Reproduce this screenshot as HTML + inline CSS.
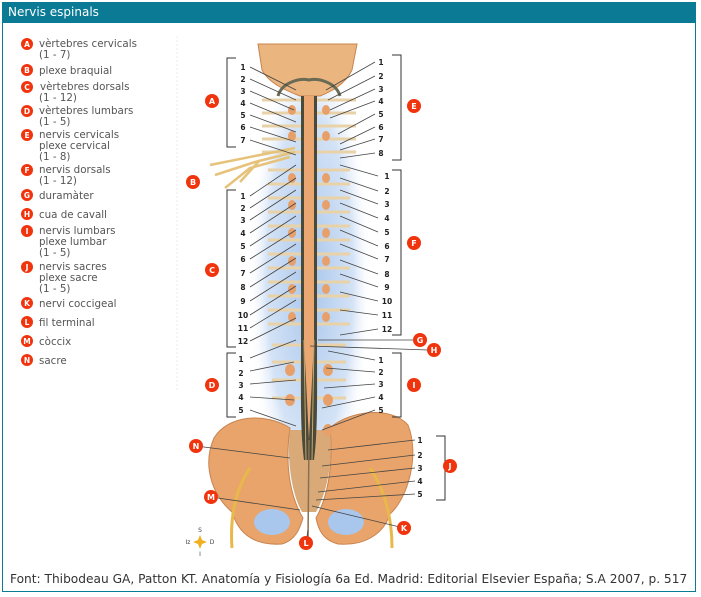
<!DOCTYPE html>
<html><head><meta charset="utf-8">
<style>
html,body{margin:0;padding:0;background:#fff;width:701px;height:597px;overflow:hidden;font-family:"DejaVu Sans","Liberation Sans",sans-serif;}
#box{position:absolute;left:2px;top:2px;width:694px;height:590px;border:1px solid #0b7a95;box-sizing:border-box;}
#hdr{position:absolute;left:2px;top:2px;width:694px;height:21px;background:#0b7a95;color:#fff;font-size:12px;line-height:21px;padding-left:6px;box-sizing:border-box;}
#foot{position:absolute;left:10px;top:572px;font-size:12.2px;color:#333;white-space:nowrap;}
svg{position:absolute;left:0;top:0;}
</style></head><body>
<div id="box"></div>
<div id="hdr">Nervis espinals</div>
<svg width="701" height="597" viewBox="0 0 701 597" font-family="DejaVu Sans, Liberation Sans, sans-serif">
<defs>
<radialGradient id="blue" cx="50%" cy="50%" r="50%"><stop offset="0" stop-color="#a9c6ec"/><stop offset="0.7" stop-color="#d4e3f6"/><stop offset="1" stop-color="#fff" stop-opacity="0"/></radialGradient>
</defs>
<line x1="177" y1="36" x2="177" y2="390" stroke="#eee" stroke-dasharray="2,2"/>
<g font-size="10.3" fill="#555">
<text x="39" y="47">vèrtebres cervicals</text><text x="39" y="58">(1 - 7)</text>
<text x="39" y="74">plexe braquial</text>
<text x="40" y="90">vèrtebres dorsals</text><text x="39" y="101">(1 - 12)</text>
<text x="39" y="114">vèrtebres lumbars</text><text x="39" y="125">(1 - 5)</text>
<text x="39" y="138">nervis cervicals</text><text x="39" y="149">plexe cervical</text><text x="39" y="160">(1 - 8)</text>
<text x="39" y="173">nervis dorsals</text><text x="39" y="184">(1 - 12)</text>
<text x="39" y="199">duramàter</text>
<text x="39" y="218">cua de cavall</text>
<text x="39" y="234">nervis lumbars</text><text x="39" y="245">plexe lumbar</text><text x="39" y="256">(1 - 5)</text>
<text x="39" y="270">nervis sacres</text><text x="39" y="281">plexe sacre</text><text x="39" y="292">(1 - 5)</text>
<text x="39" y="307">nervi coccigeal</text>
<text x="39" y="326">fil terminal</text>
<text x="39" y="345">còccix</text>
<text x="39" y="364">sacre</text>
</g>
<g fill="#f0340e">
<circle cx="27" cy="44" r="6"/><circle cx="27" cy="70" r="6"/><circle cx="27" cy="87" r="6"/><circle cx="27" cy="111" r="6"/><circle cx="27" cy="135" r="6"/><circle cx="27" cy="170" r="6"/><circle cx="27" cy="195" r="6"/><circle cx="27" cy="214" r="6"/><circle cx="27" cy="231" r="6"/><circle cx="27" cy="267" r="6"/><circle cx="27" cy="303" r="6"/><circle cx="27" cy="322" r="6"/><circle cx="27" cy="341" r="6"/><circle cx="27" cy="360" r="6"/>
</g>
<g fill="#fff" font-size="7.5" font-weight="bold" text-anchor="middle">
<text x="27" y="47">A</text><text x="27" y="73">B</text><text x="27" y="90">C</text><text x="27" y="114">D</text><text x="27" y="138">E</text><text x="27" y="173">F</text><text x="27" y="198">G</text><text x="27" y="217">H</text><text x="27" y="234">I</text><text x="27" y="270">J</text><text x="27" y="306">K</text><text x="27" y="325">L</text><text x="27" y="344">M</text><text x="27" y="363">N</text>
</g>
<ellipse cx="310" cy="280" rx="62" ry="240" fill="url(#blue)"/>
<!-- pelvis -->
<path d="M290 428 C265 412 228 415 214 438 C202 465 212 495 232 512 C238 532 252 546 282 544 C296 540 300 528 303 518 C292 500 284 470 290 428Z" fill="#e8a46a" stroke="#c98450"/>
<path d="M330 428 C350 410 392 406 408 425 C420 455 408 498 390 514 C384 533 366 546 338 544 C322 540 318 528 316 518 C326 500 334 470 330 428Z" fill="#e8a46a" stroke="#c98450"/>
<ellipse cx="272" cy="522" rx="18" ry="13" fill="#a9c6ec"/><ellipse cx="346" cy="522" rx="18" ry="13" fill="#a9c6ec"/>
<path d="M250 468 C234 492 230 520 232 548" stroke="#e8b94a" stroke-width="3" fill="none"/>
<path d="M370 468 C386 492 392 520 392 548" stroke="#e8b94a" stroke-width="3" fill="none"/>
<path d="M290 430 C286 470 295 500 302 512 L316 512 C323 500 334 470 330 430 Z" fill="#d9aa78"/>
<!-- skull -->
<path d="M258 44 L357 44 L352 70 C345 85 330 92 320 96 L300 96 C290 92 270 85 262 70 Z" fill="#eab57e" stroke="#c98450"/>
<path d="M278 96 C282 82 300 78 309 80 C318 78 336 82 340 96" stroke="#6b6b55" stroke-width="3" fill="none"/>
<g stroke="#e9d2a8" stroke-width="3">
<line x1="262" y1="100" x2="356" y2="100"/><line x1="262" y1="113" x2="356" y2="113"/><line x1="262" y1="126" x2="356" y2="126"/><line x1="262" y1="139" x2="356" y2="139"/><line x1="262" y1="152" x2="356" y2="152"/>
<line x1="268" y1="170" x2="350" y2="170"/><line x1="268" y1="184" x2="350" y2="184"/><line x1="268" y1="198" x2="350" y2="198"/><line x1="268" y1="212" x2="350" y2="212"/><line x1="268" y1="226" x2="350" y2="226"/><line x1="268" y1="240" x2="350" y2="240"/><line x1="268" y1="254" x2="350" y2="254"/><line x1="268" y1="268" x2="350" y2="268"/><line x1="268" y1="282" x2="350" y2="282"/><line x1="268" y1="296" x2="350" y2="296"/><line x1="268" y1="310" x2="350" y2="310"/><line x1="268" y1="324" x2="350" y2="324"/>
<line x1="272" y1="345" x2="346" y2="345"/><line x1="272" y1="362" x2="346" y2="362"/><line x1="272" y1="380" x2="346" y2="380"/><line x1="272" y1="398" x2="346" y2="398"/>
</g>
<g fill="#e8a06a">
<ellipse cx="292" cy="110" rx="4" ry="5"/><ellipse cx="326" cy="110" rx="4" ry="5"/><ellipse cx="292" cy="136" rx="4" ry="5"/><ellipse cx="326" cy="136" rx="4" ry="5"/>
<ellipse cx="292" cy="178" rx="4" ry="5"/><ellipse cx="326" cy="178" rx="4" ry="5"/><ellipse cx="292" cy="205" rx="4" ry="5"/><ellipse cx="326" cy="205" rx="4" ry="5"/><ellipse cx="292" cy="233" rx="4" ry="5"/><ellipse cx="326" cy="233" rx="4" ry="5"/><ellipse cx="292" cy="261" rx="4" ry="5"/><ellipse cx="326" cy="261" rx="4" ry="5"/><ellipse cx="292" cy="289" rx="4" ry="5"/><ellipse cx="326" cy="289" rx="4" ry="5"/><ellipse cx="292" cy="317" rx="4" ry="5"/><ellipse cx="326" cy="317" rx="4" ry="5"/>
<ellipse cx="290" cy="370" rx="5" ry="6"/><ellipse cx="328" cy="370" rx="5" ry="6"/><ellipse cx="290" cy="400" rx="5" ry="6"/><ellipse cx="328" cy="400" rx="5" ry="6"/><ellipse cx="328" cy="430" rx="5" ry="6"/>
</g>
<g stroke="#e6c27a" stroke-width="2.5" fill="none">
<path d="M295 148 L260 155 L210 165"/><path d="M295 152 L255 162 L215 175"/><path d="M290 157 L250 168 L225 188"/><path d="M260 160 L240 182"/>
</g>
<!-- spinal canal -->
<path d="M301 96 L301 340 C301 390 300 430 304 460 L314 460 C318 430 317 390 317 340 L317 96 Z" fill="#4a4a3a"/>
<path d="M304 96 L304 340 L309 440 L314 340 L314 96 Z" fill="#eaa772"/>
<path d="M304 340 L306 460 M314 340 L312 460" stroke="#c9a86e" stroke-width="1"/>
<line x1="309" y1="440" x2="308" y2="540" stroke="#8a7050" stroke-width="1.5"/>
<g stroke="#444" stroke-width="0.8">
<line x1="250" y1="67" x2="296" y2="90"/><line x1="250" y1="79" x2="296" y2="100"/><line x1="250" y1="91" x2="294" y2="110"/><line x1="250" y1="103" x2="296" y2="122"/><line x1="250" y1="115" x2="296" y2="132"/><line x1="250" y1="127" x2="296" y2="142"/><line x1="250" y1="140" x2="296" y2="155"/>
<line x1="250" y1="196" x2="296" y2="165"/><line x1="250" y1="208" x2="296" y2="178"/><line x1="250" y1="220" x2="296" y2="190"/><line x1="250" y1="233" x2="296" y2="203"/><line x1="250" y1="246" x2="296" y2="216"/><line x1="250" y1="259" x2="296" y2="230"/><line x1="250" y1="273" x2="296" y2="244"/><line x1="250" y1="287" x2="296" y2="258"/><line x1="250" y1="301" x2="296" y2="272"/><line x1="250" y1="315" x2="296" y2="286"/><line x1="250" y1="328" x2="296" y2="300"/><line x1="250" y1="341" x2="296" y2="318"/>
<line x1="250" y1="358" x2="296" y2="340"/><line x1="250" y1="371" x2="294" y2="362"/><line x1="250" y1="384" x2="296" y2="380"/><line x1="250" y1="397" x2="294" y2="400"/><line x1="250" y1="410" x2="296" y2="426"/>
<line x1="375" y1="62" x2="326" y2="90"/><line x1="375" y1="76" x2="328" y2="100"/><line x1="375" y1="89" x2="330" y2="110"/><line x1="375" y1="101" x2="330" y2="118"/><line x1="375" y1="114" x2="338" y2="134"/><line x1="375" y1="127" x2="340" y2="144"/><line x1="375" y1="139" x2="340" y2="150"/><line x1="375" y1="153" x2="340" y2="158"/>
<line x1="378" y1="176" x2="340" y2="165"/><line x1="378" y1="191" x2="340" y2="178"/><line x1="378" y1="204" x2="340" y2="190"/><line x1="378" y1="218" x2="340" y2="203"/><line x1="378" y1="232" x2="340" y2="216"/><line x1="378" y1="246" x2="340" y2="230"/><line x1="378" y1="259" x2="340" y2="244"/><line x1="378" y1="274" x2="340" y2="260"/><line x1="378" y1="287" x2="340" y2="274"/><line x1="378" y1="301" x2="340" y2="292"/><line x1="378" y1="315" x2="340" y2="310"/><line x1="378" y1="329" x2="340" y2="335"/>
<line x1="414" y1="340" x2="318" y2="340"/><line x1="428" y1="350" x2="310" y2="346"/>
<line x1="375" y1="360" x2="328" y2="351"/><line x1="375" y1="372" x2="326" y2="368"/><line x1="375" y1="384" x2="324" y2="388"/><line x1="375" y1="397" x2="322" y2="408"/><line x1="375" y1="410" x2="322" y2="430"/>
<line x1="415" y1="440" x2="328" y2="450"/><line x1="415" y1="455" x2="322" y2="466"/><line x1="415" y1="468" x2="320" y2="478"/><line x1="415" y1="481" x2="318" y2="492"/><line x1="415" y1="494" x2="316" y2="500"/>
<line x1="196" y1="446" x2="290" y2="458"/><line x1="211" y1="497" x2="300" y2="510"/><line x1="404" y1="528" x2="312" y2="506"/><line x1="306" y1="543" x2="308" y2="530"/>
</g>
<g stroke="#333" stroke-width="1" fill="none">
<polyline points="236,58 227,58 227,147 236,147"/><polyline points="236,190 227,190 227,347 236,347"/><polyline points="236,353 227,353 227,417 236,417"/>
<polyline points="392,55 401,55 401,160 392,160"/><polyline points="392,170 401,170 401,335 392,335"/><polyline points="392,353 401,353 401,417 392,417"/><polyline points="436,436 445,436 445,500 436,500"/>
</g>
<g font-size="7.5" font-weight="bold" fill="#222" text-anchor="middle">
<text x="243" y="70">1</text><text x="243" y="82">2</text><text x="243" y="94">3</text><text x="243" y="106">4</text><text x="243" y="118">5</text><text x="243" y="130">6</text><text x="243" y="143">7</text>
<text x="243" y="199">1</text><text x="243" y="211">2</text><text x="243" y="223">3</text><text x="243" y="236">4</text><text x="243" y="249">5</text><text x="243" y="262">6</text><text x="243" y="276">7</text><text x="243" y="290">8</text><text x="243" y="304">9</text><text x="243" y="318">10</text><text x="243" y="331">11</text><text x="243" y="344">12</text>
<text x="241" y="362">1</text><text x="241" y="376">2</text><text x="241" y="388">3</text><text x="241" y="400">4</text><text x="241" y="413">5</text>
<text x="381" y="65">1</text><text x="381" y="79">2</text><text x="381" y="92">3</text><text x="381" y="104">4</text><text x="381" y="117">5</text><text x="381" y="130">6</text><text x="381" y="142">7</text><text x="381" y="156">8</text>
<text x="387" y="179">1</text><text x="387" y="194">2</text><text x="387" y="207">3</text><text x="387" y="221">4</text><text x="387" y="235">5</text><text x="387" y="249">6</text><text x="387" y="262">7</text><text x="387" y="277">8</text><text x="387" y="290">9</text><text x="387" y="304">10</text><text x="387" y="318">11</text><text x="387" y="332">12</text>
<text x="381" y="363">1</text><text x="381" y="375">2</text><text x="381" y="387">3</text><text x="381" y="400">4</text><text x="381" y="413">5</text>
<text x="420" y="443">1</text><text x="420" y="458">2</text><text x="420" y="471">3</text><text x="420" y="484">4</text><text x="420" y="497">5</text>
</g>
<g fill="#f0340e">
<circle cx="212" cy="101" r="7"/><circle cx="193" cy="182" r="7"/><circle cx="212" cy="270" r="7"/><circle cx="212" cy="385" r="7"/><circle cx="414" cy="106" r="7"/><circle cx="414" cy="243" r="7"/><circle cx="420" cy="340" r="7"/><circle cx="434" cy="350" r="7"/><circle cx="414" cy="385" r="7"/><circle cx="450" cy="466" r="7"/><circle cx="196" cy="446" r="7"/><circle cx="211" cy="497" r="7"/><circle cx="404" cy="528" r="7"/><circle cx="306" cy="543" r="7"/>
</g>
<g fill="#fff" font-size="8" font-weight="bold" text-anchor="middle">
<text x="212" y="104">A</text><text x="193" y="185">B</text><text x="212" y="273">C</text><text x="212" y="388">D</text><text x="414" y="109">E</text><text x="414" y="246">F</text><text x="420" y="343">G</text><text x="434" y="353">H</text><text x="414" y="388">I</text><text x="450" y="469">J</text><text x="196" y="449">N</text><text x="211" y="500">M</text><text x="404" y="531">K</text><text x="306" y="546">L</text>
</g>
<g font-size="6" fill="#444" text-anchor="middle">
<text x="200" y="532">S</text><text x="188" y="544">Iz</text><text x="212" y="544">D</text><text x="200" y="556">I</text>
<path d="M200 535 L202 540 L207 542 L202 544 L200 549 L198 544 L193 542 L198 540 Z" fill="#f0b020"/>
</g>
</svg>
<div id="foot">Font: Thibodeau GA, Patton KT. Anatomía y Fisiología 6a Ed. Madrid: Editorial Elsevier España; S.A 2007, p. 517</div>
</body></html>
